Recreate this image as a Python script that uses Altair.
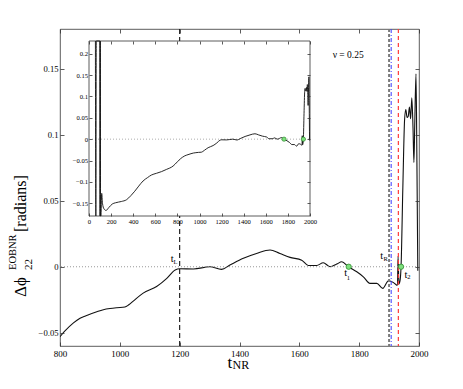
import altair as alt
import pandas as pd

# ---------------- data ----------------
t_vals = [58, 62, 66, 98, 100, 102, 104, 108, 115, 122, 135, 154, 180, 210, 240,
          293, 339, 380, 414, 450, 489, 530, 565, 610, 656, 700, 761, 800, 815,
          845, 867, 885, 923, 945, 967, 990, 1017, 1030, 1045, 1078, 1123, 1157,
          1185, 1200, 1246, 1301, 1340, 1368, 1413, 1457, 1502, 1535, 1569, 1608,
          1630, 1658, 1680, 1703, 1725, 1742, 1764, 1792, 1814, 1836, 1859, 1879,
          1898, 1915, 1925, 1928, 1930, 1933, 1937, 1940, 1946, 1952, 1956, 1960,
          1964, 1968, 1972, 1976, 1980, 1983, 1986, 1990, 1993, 1996]
dphi_vals = [0.6, -0.6, 0.6, 0.6, -0.6, 0.6, -0.6, -0.3, -0.127, -0.15, -0.163,
             -0.167, -0.16, -0.152, -0.149, -0.146, -0.142, -0.132, -0.122, -0.11,
             -0.098, -0.09, -0.084, -0.08, -0.076, -0.071, -0.063, -0.053, -0.049,
             -0.0425, -0.039, -0.0372, -0.034, -0.0325, -0.0316, -0.031, -0.0305,
             -0.0288, -0.026, -0.020, -0.015, -0.0088, -0.0025, -0.0015, -0.0017,
             0.0, -0.002, 0.0013, 0.0064, 0.010, 0.0127, 0.010, 0.0071, 0.005,
             0.001, 0.001, 0.003, 0.0, 0.002, 0.0038, 0.0, -0.0038, -0.0076,
             -0.0126, -0.0126, -0.0164, -0.0106, -0.012, -0.0139, -0.014, 0.008,
             -0.013, -0.01, 0.0, 0.06, 0.112, 0.119, 0.113, 0.114, 0.121, 0.112,
             0.128, 0.105, 0.079, 0.11, 0.146, 0.08, -0.003]

marker_t = [1765, 1940]
marker_v = [0.0, 0.0]

t_L, t_gray, t_blue, t_red = 1200, 1900, 1907, 1931

main_x_domain = [800, 2000]
main_y_domain = [-0.06, 0.18]
main_x_ticks = [800, 1000, 1200, 1400, 1600, 1800, 2000]
main_y_ticks = [-0.05, 0, 0.05, 0.1, 0.15]

inset_x_domain = [0, 2000]
inset_y_domain = [-0.18, 0.23]
inset_x_ticks = [0, 200, 400, 600, 800, 1000, 1200, 1400, 1600, 1800, 2000]
inset_y_ticks = [-0.15, -0.1, -0.05, 0, 0.05, 0.1, 0.15, 0.2]

nu_label = "ν = 0.25"

# ---------------- tables built from the arrays ----------------
curve = pd.DataFrame({"t": t_vals, "dphi": dphi_vals})
marks = pd.DataFrame({"t": marker_t, "dphi": marker_v})
one = pd.DataFrame({"t": [0]})
inset_box = pd.DataFrame({"x0": [inset_x_domain[0]], "x1": [inset_x_domain[1]],
                          "y0": [inset_y_domain[0]], "y1": [inset_y_domain[1]]})
zero_seg = pd.DataFrame({"x0": [inset_x_domain[0]], "x1": [inset_x_domain[1]], "y": [0.0]})

FONT = "Liberation Serif"
W, H = 359, 317
IX = [29, 250]
IY = [187, 12]
FRAME = "#333333"

mx = alt.Scale(domain=main_x_domain, nice=False, zero=False)
my = alt.Scale(domain=main_y_domain, nice=False, zero=False)
ix = alt.Scale(domain=inset_x_domain, range=IX, nice=False, zero=False)
iy = alt.Scale(domain=inset_y_domain, range=IY, nice=False, zero=False, clamp=True)


def ax(orient, values, offset, tick, labels=True, size=9, pad=3):
    kw = dict(orient=orient, values=values, domain=False, grid=False, ticks=True,
              tickSize=tick, tickColor=FRAME, tickWidth=0.8, offset=offset,
              labels=labels, title="", zindex=1)
    if labels:
        kw.update(labelFont=FONT, labelFontSize=size, labelColor="black",
                  labelPadding=pad, labelFlush=False, labelOverlap=False,
                  format=".2~f")
    return alt.Axis(**kw)


AX_MB = ax("bottom", main_x_ticks, -4, 4, size=9, pad=3.5)
AX_ML = ax("left", main_y_ticks, -4, 4, size=8.6, pad=2)
AX_MT = ax("top", main_x_ticks, -4, 4, labels=False)
AX_MR = ax("right", main_y_ticks, -4, 4, labels=False)
AX_IB = ax("bottom", inset_x_ticks, 184 - H, 3, size=6.6, pad=2.5)
AX_IL = ax("left", inset_y_ticks, -32, 3, size=6.6, pad=1.5)
AX_IT = ax("top", inset_x_ticks, -15, 3, labels=False)
AX_IR = ax("right", inset_y_ticks, 247 - W, 3, labels=False)


def MX(f="t"):
    return alt.X(f"{f}:Q", scale=mx, axis=AX_MB)


def MY(f="dphi"):
    return alt.Y(f"{f}:Q", scale=my, axis=AX_ML)


def IXe(f):
    return alt.X(f"{f}:Q", scale=ix, axis=AX_IB)


def IYe(f):
    return alt.Y(f"{f}:Q", scale=iy, axis=AX_IL)


# ---------------- main panel ----------------
main_line = alt.Chart(curve).transform_filter("datum.t >= 800").mark_line(
    color="#111111", strokeWidth=1.1, interpolate="monotone", clip=True
).encode(x=MX(), y=MY())

zero_main = alt.Chart(one).mark_rule(color="#999999", strokeDash=[1, 2], strokeWidth=1).encode(
    y=alt.datum(0.0, scale=my, axis=AX_ML))


def vrule(tval, color, dash, width):
    return alt.Chart(one).mark_rule(color=color, strokeDash=dash, strokeWidth=width).encode(
        x=alt.datum(tval, scale=mx, axis=AX_MB))


rules = [
    vrule(t_L, "#111111", [5, 3], 1.1),
    vrule(t_gray, "#7a7a7a", [3, 2], 2),
    vrule(t_blue, "#3a3aff", [4, 2, 1, 2], 1),
    vrule(t_red, "#ff3b3b", [4, 3], 1.2),
]

main_pts = alt.Chart(marks).mark_point(
    shape="circle", filled=True, size=28, fill="#7ee07e", stroke="#2e8b2e",
    strokeWidth=0.8, opacity=1
).encode(x=MX(), y=MY())


def tlab(tval, txt, dx, dy, size):
    return alt.Chart(one).mark_text(
        text=txt, font=FONT, fontSize=size, dx=dx, dy=dy, align="center",
        baseline="alphabetic", color="black"
    ).encode(x=alt.datum(tval, scale=mx, axis=AX_MB), y=alt.datum(0.0, scale=my, axis=AX_ML))


labels = [
    tlab(t_L, "t", -7.5, -4.7, 10.5), tlab(t_L, "L", -4.2, -3.0, 6.5),
    tlab(marker_t[0], "t", -3, 8.8, 10.5), tlab(marker_t[0], "1", -0.2, 13.3, 6.5),
    tlab(t_gray, "t", -7.3, -8.2, 10.5), tlab(t_gray, "R", -3.5, -5.6, 6.5),
    tlab(marker_t[1], "t", 4.8, 10.8, 10.5), tlab(marker_t[1], "2", 7.8, 12.4, 6.5),
]


def ptext(txt, x, y, size, angle=0, align="left", baseline="alphabetic"):
    kw = dict(text=txt, font=FONT, fontSize=size, align=align, baseline=baseline,
              color="black")
    if angle:
        kw["angle"] = angle
    return alt.Chart(one).mark_text(**kw).encode(x=alt.value(x), y=alt.value(y))


texts = [
    ptext(nu_label, 272.7, 26, 9.5, baseline="middle"),
    ptext("Δϕ", -39, 268, 17, angle=270, baseline="middle"),
    ptext("EOBNR", -47.5, 241, 10.5, angle=270, baseline="middle"),
    ptext("22", -31.5, 241, 11, angle=270, baseline="middle"),
    ptext("[radians]", -39, 203, 16, angle=270, baseline="middle"),
    ptext("t", 167.5, 338.5, 17),
    ptext("NR", 172.5, 340, 12),
]

main_layer = alt.layer(main_line, zero_main, *rules, main_pts, *labels, *texts)

# ---------------- inset ----------------
inset_bg = alt.Chart(inset_box).mark_rect(fill="white", stroke=FRAME, strokeWidth=0.8).encode(
    x=IXe("x0"), x2="x1", y=IYe("y0"), y2="y1")
inset_zero = alt.Chart(zero_seg).mark_rule(color="#999999", strokeDash=[1, 2], strokeWidth=0.8).encode(
    x=IXe("x0"), x2="x1", y=IYe("y"))
inset_line = alt.Chart(curve).mark_line(
    color="#111111", strokeWidth=0.9, interpolate="monotone"
).encode(x=IXe("t"), y=IYe("dphi"))
inset_pts = alt.Chart(marks).mark_point(
    shape="circle", filled=True, size=18, fill="#7ee07e", stroke="#2e8b2e",
    strokeWidth=0.7, opacity=1
).encode(x=IXe("t"), y=IYe("dphi"))

inset_layer = alt.layer(inset_bg, inset_zero, inset_line, inset_pts)

# ---------------- mirrored (top / right) tick marks ----------------
main_mirror = alt.Chart(curve).mark_point(opacity=0, size=1).encode(
    x=alt.X("t:Q", scale=mx, axis=AX_MT), y=alt.Y("dphi:Q", scale=my, axis=AX_MR))
inset_mirror = alt.Chart(curve).mark_point(opacity=0, size=1).encode(
    x=alt.X("t:Q", scale=ix, axis=AX_IT), y=alt.Y("dphi:Q", scale=iy, axis=AX_IR))

chart = alt.layer(main_layer, inset_layer, main_mirror, inset_mirror).resolve_scale(
    x="independent", y="independent"
).properties(
    width=W, height=H, autosize="none",
    padding={"left": 52, "top": 21, "right": 36, "bottom": 33},
    background="white",
).configure_view(stroke=FRAME, strokeWidth=0.8)

chart.save("out.html", embed_options={"renderer": "svg", "actions": False})
